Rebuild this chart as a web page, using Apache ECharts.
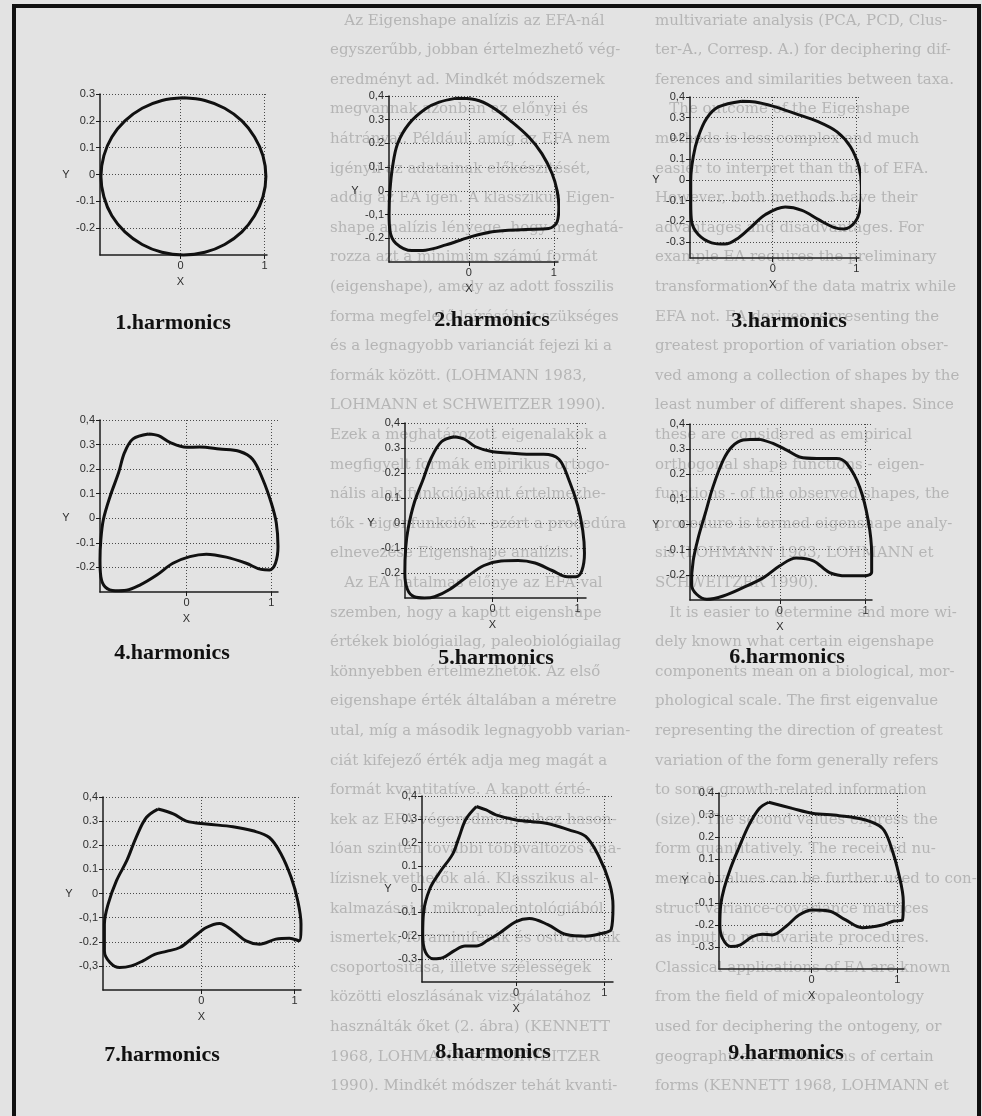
<!DOCTYPE html>
<html>
<head>
<meta charset="utf-8">
<script src="https://cdn.jsdelivr.net/npm/echarts@6/dist/echarts.min.js"></script>
<style>
html, body { margin: 0; padding: 0; background: #e3e3e3; }
#main { width: 982px; height: 1116px; }
</style>
</head>
<body>
<div id="main"></div>
<script>
//外形轮廓 [x, y]
const shape1 = [[0.035, 0.286], [-0.22, 0.276], [-0.455, 0.247], [-0.66, 0.2], [-0.815, 0.14], [-0.91, 0.07], [-0.945, -0.007], [-0.91, -0.083], [-0.815, -0.154], [-0.66, -0.214], [-0.455, -0.261], [-0.22, -0.29], [0.035, -0.3], [0.29, -0.29], [0.525, -0.261], [0.73, -0.214], [0.88, -0.154], [0.98, -0.083], [1.015, -0.007], [0.98, 0.07], [0.88, 0.14], [0.73, 0.2], [0.525, 0.247], [0.29, 0.276]];
const shape2 = [[-0.16, 0.39], [-0.35, 0.374], [-0.51, 0.346], [-0.705, 0.283], [-0.84, 0.199], [-0.9, 0.1], [-0.93, 0.0], [-0.94, -0.098], [-0.93, -0.168], [-0.86, -0.221], [-0.67, -0.252], [-0.51, -0.25], [-0.27, -0.228], [0.0, -0.196], [0.275, -0.172], [0.667, -0.163], [0.94, -0.159], [1.04, -0.13], [1.06, -0.067], [1.04, 0.0], [0.98, 0.073], [0.86, 0.157], [0.706, 0.227], [0.51, 0.29], [0.275, 0.353], [0.08, 0.384]];
const shape3 = [[-0.37, 0.38], [-0.65, 0.352], [-0.79, 0.297], [-0.89, 0.208], [-0.95, 0.112], [-0.98, 0.0], [-0.98, -0.112], [-0.97, -0.2], [-0.89, -0.264], [-0.73, -0.304], [-0.57, -0.31], [-0.41, -0.28], [-0.25, -0.224], [-0.09, -0.168], [0.15, -0.131], [0.35, -0.147], [0.55, -0.192], [0.73, -0.229], [0.85, -0.237], [0.99, -0.2], [1.05, -0.128], [1.06, -0.032], [1.03, 0.064], [0.93, 0.16], [0.77, 0.232], [0.55, 0.28], [0.27, 0.32], [0.0, 0.356], [-0.21, 0.376]];
const shape4 = [[-0.45, 0.343], [-0.63, 0.323], [-0.73, 0.268], [-0.8, 0.186], [-0.9, 0.09], [-0.98, -0.005], [-1.01, -0.087], [-1.02, -0.17], [-1.01, -0.238], [-0.96, -0.279], [-0.84, -0.295], [-0.71, -0.293], [-0.55, -0.272], [-0.35, -0.231], [-0.16, -0.183], [0.04, -0.156], [0.235, -0.146], [0.47, -0.158], [0.705, -0.183], [0.88, -0.208], [0.98, -0.21], [1.05, -0.183], [1.08, -0.115], [1.06, -0.019], [1.0, 0.063], [0.9, 0.159], [0.78, 0.24], [0.63, 0.272], [0.39, 0.282], [0.156, 0.29], [0.0, 0.289], [-0.196, 0.309], [-0.33, 0.336]];
const shape5 = [[-0.45, 0.345], [-0.6, 0.325], [-0.72, 0.26], [-0.82, 0.17], [-0.92, 0.08], [-0.99, -0.02], [-1.02, -0.1], [-1.03, -0.2], [-1.0, -0.265], [-0.92, -0.295], [-0.8, -0.3], [-0.68, -0.295], [-0.5, -0.265], [-0.3, -0.215], [-0.1, -0.17], [0.1, -0.152], [0.3, -0.15], [0.5, -0.16], [0.7, -0.19], [0.88, -0.215], [0.98, -0.215], [1.05, -0.19], [1.08, -0.12], [1.06, -0.03], [1.0, 0.07], [0.9, 0.17], [0.78, 0.255], [0.6, 0.275], [0.4, 0.275], [0.2, 0.28], [0.0, 0.285], [-0.2, 0.305], [-0.33, 0.335]];
const shape6 = [[-0.233, 0.339], [-0.427, 0.336], [-0.56, 0.309], [-0.66, 0.256], [-0.78, 0.149], [-0.87, 0.043], [-0.95, -0.051], [-1.01, -0.144], [-1.03, -0.237], [-0.97, -0.277], [-0.85, -0.297], [-0.66, -0.284], [-0.43, -0.251], [-0.19, -0.211], [0.0, -0.164], [0.19, -0.133], [0.39, -0.144], [0.58, -0.191], [0.78, -0.204], [0.97, -0.204], [1.07, -0.19], [1.07, -0.117], [1.03, 0.016], [0.93, 0.149], [0.78, 0.243], [0.66, 0.263], [0.43, 0.263], [0.23, 0.269], [0.08, 0.296], [-0.08, 0.323]];
const shape7 = [[-0.465, 0.35], [-0.59, 0.315], [-0.7, 0.232], [-0.8, 0.136], [-0.91, 0.053], [-1.0, -0.044], [-1.04, -0.127], [-1.04, -0.238], [-0.98, -0.286], [-0.876, -0.307], [-0.75, -0.3], [-0.626, -0.279], [-0.5, -0.252], [-0.375, -0.24], [-0.23, -0.224], [-0.09, -0.183], [0.054, -0.141], [0.196, -0.124], [0.34, -0.155], [0.48, -0.196], [0.625, -0.21], [0.8, -0.189], [0.946, -0.185], [1.05, -0.196], [1.07, -0.127], [1.035, -0.03], [0.965, 0.066], [0.857, 0.163], [0.73, 0.232], [0.553, 0.26], [0.339, 0.277], [0.054, 0.288], [-0.16, 0.3], [-0.3, 0.33]];
const shape8 = [[-0.45, 0.355], [-0.57, 0.3], [-0.65, 0.22], [-0.72, 0.15], [-0.87, 0.07], [-0.98, 0.0], [-1.05, -0.1], [-1.06, -0.2], [-1.03, -0.27], [-0.94, -0.3], [-0.83, -0.295], [-0.7, -0.265], [-0.58, -0.245], [-0.45, -0.245], [-0.32, -0.22], [-0.19, -0.19], [0.0, -0.14], [0.15, -0.127], [0.36, -0.153], [0.57, -0.196], [0.79, -0.203], [0.98, -0.19], [1.08, -0.174], [1.1, -0.074], [1.06, 0.026], [0.94, 0.14], [0.79, 0.226], [0.6, 0.254], [0.34, 0.283], [0.0, 0.297], [-0.23, 0.319], [-0.34, 0.34]];
const shape9 = [[-0.5, 0.358], [-0.61, 0.33], [-0.73, 0.255], [-0.85, 0.149], [-0.945, 0.058], [-1.02, -0.033], [-1.06, -0.109], [-1.07, -0.2], [-1.04, -0.26], [-0.945, -0.298], [-0.83, -0.29], [-0.69, -0.253], [-0.575, -0.242], [-0.46, -0.245], [-0.3, -0.207], [-0.147, -0.155], [0.008, -0.132], [0.2, -0.136], [0.397, -0.177], [0.59, -0.212], [0.825, -0.2], [0.96, -0.182], [1.06, -0.177], [1.07, -0.094], [1.02, 0.027], [0.92, 0.164], [0.825, 0.24], [0.63, 0.277], [0.32, 0.297], [0.008, 0.308], [-0.225, 0.33]];

//刻度
const xTicks = [0, 1];
const xLabels = ['0', '1'];
const yTicks1 = [0.3, 0.2, 0.1, 0, -0.1, -0.2];
const yLabels1 = ['0.3', '0.2', '0.1', '0', '-0.1', '-0.2'];
const yTicks2 = [0.4, 0.3, 0.2, 0.1, 0, -0.1, -0.2];
const yLabels2 = ['0,4', '0.3', '0.2', '0,1', '0', '-0,1', '-0.2'];
const yTicks3 = [0.4, 0.3, 0.2, 0.1, 0, -0.1, -0.2, -0.3];
const yLabels3 = ['0,4', '0.3', '0.2', '0.1', '0', '-0.1', '-0.2', '-0.3'];
const yLabels4 = ['0,4', '0.3', '0.2', '0.1', '0', '-0.1', '-0.2'];
const yLabels5 = ['0,4', '0.3', '0.2', '0.1', '0', '-0.1', '-0.2'];
const yLabels6 = ['0,4', '0.3', '0.2', '0,1', '0', '-0.1', '-0.2'];
const yLabels7 = ['0,4', '0.3', '0.2', '0.1', '0', '-0,1', '-0.2', '-0,3'];
const yLabels8 = ['0,4', '0.3', '0.2', '0.1', '0', '-0.1', '-0.2', '-0.3'];
const yLabels9 = ['0.4', '0.3', '0.2', '0.1', '0', '-0.1', '-0.2', '-0.3'];
const titles = ['1.harmonics', '2.harmonics', '3.harmonics', '4.harmonics', '5.harmonics', '6.harmonics', '7.harmonics', '8.harmonics', '9.harmonics'];

//背景页面文字
const textHu = [
    '   Az Eigenshape analízis az EFA-nál',
    'egyszerűbb, jobban értelmezhető vég-',
    'eredményt ad. Mindkét módszernek',
    'megvannak azonban az előnyei és',
    'hátrányai. Például, amíg az EFA nem',
    'igényli az adatainak előkészítését,',
    'addig az EA igen. A klasszikus Eigen-',
    'shape analízis lényege, hogy meghatá-',
    'rozza azt a minimum számú formát',
    '(eigenshape), amely az adott fosszilis',
    'forma megfelelő leírásához szükséges',
    'és a legnagyobb varianciát fejezi ki a',
    'formák között. (LOHMANN 1983,',
    'LOHMANN et SCHWEITZER 1990).',
    'Ezek a meghatározott eigenalakok a',
    'megfigyelt formák empirikus ortogo-',
    'nális alak funkciójaként értelmezhe-',
    'tők - eigenfunkciók - ezért a procedúra',
    'elnevezése Eigenshape analízis.',
    '   Az EA hatalmas előnye az EFA-val',
    'szemben, hogy a kapott eigenshape',
    'értékek biológiailag, paleobiológiailag',
    'könnyebben értelmezhetők. Az első',
    'eigenshape érték általában a méretre',
    'utal, míg a második legnagyobb varian-',
    'ciát kifejező érték adja meg magát a',
    'formát kvantitatíve. A kapott érté-',
    'kek az EFA végeredményeihez hason-',
    'lóan szintén további többváltozós ana-',
    'lízisnek vethetők alá. Klasszikus al-',
    'kalmazásai a mikropaleontológiából',
    'ismertek, foraminiferák és ostracodák',
    'csoportosítása, illetve szélességek',
    'közötti eloszlásának vizsgálatához',
    'használták őket (2. ábra) (KENNETT',
    '1968, LOHMANN et SCHWEITZER',
    '1990). Mindkét módszer tehát kvanti-'
];
const textEn = [
    'multivariate analysis (PCA, PCD, Clus-',
    'ter-A., Corresp. A.) for deciphering dif-',
    'ferences and similarities between taxa.',
    '   The outcome of the Eigenshape',
    'methods is less complex and much',
    'easier to interpret than that of EFA.',
    'However, both methods have their',
    'advantages and disadvantages. For',
    'example EA requires the preliminary',
    'transformation of the data matrix while',
    'EFA not. EA derives representing the',
    'greatest proportion of variation obser-',
    'ved among a collection of shapes by the',
    'least number of different shapes. Since',
    'these are considered as empirical',
    'orthogonal shape functions - eigen-',
    'functions - of the observed shapes, the',
    'procedure is termed eigenshape analy-',
    'sis (LOHMANN 1983, LOHMANN et',
    'SCHWEITZER 1990).',
    '   It is easier to determine and more wi-',
    'dely known what certain eigenshape',
    'components mean on a biological, mor-',
    'phological scale. The first eigenvalue',
    'representing the direction of greatest',
    'variation of the form generally refers',
    'to some growth-related information',
    '(size). The second values express the',
    'form quantitatively. The received nu-',
    'merical values can be further used to con-',
    'struct variance-covariance matrices',
    'as input to multivariate procedures.',
    'Classical applications of EA are known',
    'from the field of micropaleontology',
    'used for deciphering the ontogeny, or',
    'geographical distributions of certain',
    'forms (KENNETT 1968, LOHMANN et'
];

const shapes = [shape1, shape2, shape3, shape4, shape5, shape6, shape7, shape8, shape9];
const yTicks = [yTicks1, yTicks2, yTicks3, yTicks2, yTicks2, yTicks2, yTicks3, yTicks3, yTicks3];
const yLabels = [yLabels1, yLabels2, yLabels3, yLabels4, yLabels5, yLabels6, yLabels7, yLabels8, yLabels9];

//各小图位置
const panels = [
    { left: 100, top: 94, width: 167, height: 161, xMin: -0.956, xMax: 1.028, yMin: -0.3, yMax: 0.3, tx: 173, ty: 323 },
    { left: 389, top: 96, width: 169, height: 166, xMin: -0.941, xMax: 1.05, yMin: -0.3, yMax: 0.4, tx: 492, ty: 320 },
    { left: 690, top: 97, width: 169, height: 161, xMin: -0.989, xMax: 1.032, yMin: -0.377, yMax: 0.4, tx: 789, ty: 321 },
    { left: 100, top: 420, width: 178, height: 172, xMin: -1.02, xMax: 1.08, yMin: -0.3, yMax: 0.4, tx: 172, ty: 653 },
    { left: 405, top: 423, width: 181, height: 175, xMin: -1.028, xMax: 1.098, yMin: -0.3, yMax: 0.4, tx: 496, ty: 658 },
    { left: 690, top: 424, width: 182, height: 176, xMin: -1.047, xMax: 1.074, yMin: -0.3, yMax: 0.4, tx: 787, ty: 657 },
    { left: 103, top: 797, width: 198, height: 193, xMin: -1.055, xMax: 1.07, yMin: -0.4, yMax: 0.4, tx: 162, ty: 1055 },
    { left: 422, top: 796, width: 191, height: 186, xMin: -1.068, xMax: 1.1, yMin: -0.4, yMax: 0.4, tx: 493, ty: 1052 },
    { left: 719, top: 793, width: 185, height: 176, xMin: -1.08, xMax: 1.078, yMin: -0.4, yMax: 0.4, tx: 786, ty: 1053 }
];

const axisColor = '#1c1c1c';
const labelStyle = { fontFamily: 'Liberation Sans', fontSize: 11, color: '#2e2e2e' };
const gridLine = { show: true, lineStyle: { type: [1, 2], color: '#4a4a4a', width: 1 } };

let chart = echarts.init(document.getElementById('main'), null, { renderer: 'canvas' });

function tickLabel(ticks, labels, v) {
    const k = ticks.findIndex(t => Math.abs(t - v) < 1e-9);
    return k < 0 ? '' : labels[k];
}

let option = {
    backgroundColor: '#e3e3e3',
    animation: false,
    grid: panels.map(p => ({ left: p.left, top: p.top, width: p.width, height: p.height })),
    xAxis: panels.map((p, i) => ({
        type: 'value',
        gridIndex: i,
        min: p.xMin,
        max: p.xMax,
        axisLine: { show: true, onZero: false, lineStyle: { color: axisColor, width: 1.5 } },
        axisTick: { show: true, length: 4, customValues: xTicks, lineStyle: { color: axisColor } },
        axisLabel: Object.assign({ customValues: xTicks, margin: 5, formatter: v => tickLabel(xTicks, xLabels, v) }, labelStyle),
        splitLine: gridLine
    })),
    yAxis: panels.map((p, i) => ({
        type: 'value',
        gridIndex: i,
        min: p.yMin,
        max: p.yMax,
        axisLine: { show: true, onZero: false, lineStyle: { color: axisColor, width: 1.5 } },
        axisTick: { show: true, length: 4, customValues: yTicks[i], lineStyle: { color: axisColor } },
        axisLabel: Object.assign({ customValues: yTicks[i], margin: 5, formatter: v => tickLabel(yTicks[i], yLabels[i], v) }, labelStyle),
        splitLine: gridLine
    })),
    series: shapes.map((s, i) => ({
        type: 'line',
        xAxisIndex: i,
        yAxisIndex: i,
        data: s.concat([s[0]]),
        smooth: 0.35,
        symbol: 'none',
        clip: false,
        silent: true,
        lineStyle: { color: '#111', width: 3 }
    }))
};
chart.setOption(option);

//标题、坐标名、边框
let graphic = [
    {
        type: 'text', z: -10, left: 330, top: 6,
        style: { text: textHu.join('\n'), font: '15px "DejaVu Serif"', fill: '#b5b5b5', lineHeight: 29.6 }
    },
    {
        type: 'text', z: -10, left: 655, top: 6,
        style: { text: textEn.join('\n'), font: '15px "DejaVu Serif"', fill: '#b5b5b5', lineHeight: 29.6 }
    },
    { type: 'rect', shape: { x: 12, y: 4, width: 969, height: 4 }, style: { fill: '#111' } },
    { type: 'rect', shape: { x: 12, y: 4, width: 4, height: 1112 }, style: { fill: '#111' } },
    { type: 'rect', shape: { x: 977, y: 4, width: 4, height: 1112 }, style: { fill: '#111' } }
];
panels.forEach((p, i) => {
    const py = chart.convertToPixel({ gridIndex: i }, [p.xMin, 0]);
    const px = chart.convertToPixel({ gridIndex: i }, [0, p.yMin]);
    graphic.push({
        type: 'text', x: py[0] - 34, y: py[1],
        style: { text: 'Y', font: '11px "Liberation Sans"', fill: '#2e2e2e', align: 'center', verticalAlign: 'middle' }
    });
    graphic.push({
        type: 'text', x: px[0], y: px[1] + 27,
        style: { text: 'X', font: '11px "Liberation Sans"', fill: '#2e2e2e', align: 'center', verticalAlign: 'middle' }
    });
    graphic.push({
        type: 'text', x: p.tx, y: p.ty,
        style: { text: titles[i], font: 'bold 22px "Liberation Serif"', fill: '#111', align: 'center', verticalAlign: 'middle' }
    });
});
chart.setOption({ graphic: graphic });
</script>
</body>
</html>
